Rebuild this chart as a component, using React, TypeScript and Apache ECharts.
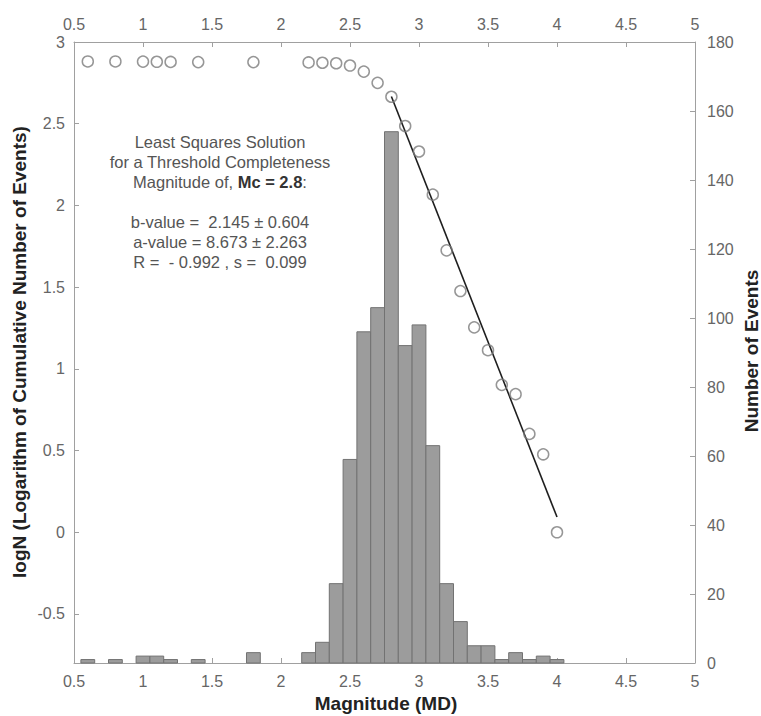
import React, { useEffect, useRef } from "react";
import * as echarts from "echarts";

// Histogram bins (magnitude centres) and counts (right axis)
const binMagnitudes = [0.6, 0.8, 1.0, 1.1, 1.2, 1.4, 1.8, 2.2, 2.3, 2.4, 2.5, 2.6, 2.7, 2.8, 2.9, 3.0, 3.1, 3.2, 3.3, 3.4, 3.5, 3.6, 3.7, 3.8, 3.9, 4.0];
const binCounts = [1, 1, 2, 2, 1, 1, 3, 3, 6, 23, 59, 96, 103, 154, 92, 98, 63, 23, 12, 5, 5, 1, 3, 1, 2, 1];

// Cumulative logN points (left axis)
const cumMagnitudes = [0.6, 0.8, 1.0, 1.1, 1.2, 1.4, 1.8, 2.2, 2.3, 2.4, 2.5, 2.6, 2.7, 2.8, 2.9, 3.0, 3.1, 3.2, 3.3, 3.4, 3.5, 3.6, 3.7, 3.8, 3.9, 4.0];
const cumLogN = [2.881, 2.881, 2.880, 2.879, 2.878, 2.877, 2.877, 2.875, 2.873, 2.870, 2.856, 2.819, 2.750, 2.665, 2.486, 2.330, 2.066, 1.725, 1.476, 1.254, 1.114, 0.902, 0.845, 0.602, 0.477, 0.0];

// Least squares fit line endpoints
const fitMagnitudes = [2.8, 4.0];
const fitLogN = [2.667, 0.093];

// Tick values
const leftTicks = [-0.5, 0, 0.5, 1, 1.5, 2, 2.5, 3];

const annotationLines = [
  "Least Squares Solution",
  "for a Threshold Completeness",
  "Magnitude of, {b|Mc = 2.8}:",
  "",
  "b-value =  2.145 \u00b1 0.604",
  "a-value = 8.673 \u00b1 2.263",
  "R =  - 0.992 , s =  0.099",
];

const FONT = "'Liberation Sans', Arial, Helvetica, sans-serif";
const AXIS_COLOR = "#a0a0a0";
const LABEL_COLOR = "#666";

export default function App() {
  const ref = useRef<HTMLDivElement>(null);
  useEffect(() => {
    if (!ref.current) return;
    const chart = echarts.init(ref.current, undefined, { renderer: "svg" });
    const barData = binMagnitudes.map((m, i) => [m, binCounts[i]]);
    const scatterData = cumMagnitudes.map((m, i) => [m, cumLogN[i]]);
    const lineData = fitMagnitudes.map((m, i) => [m, fitLogN[i]]);

    const axisLabelBase = { color: LABEL_COLOR, fontFamily: FONT, fontSize: 16 };
    const axisLineBase = { show: true, onZero: false, lineStyle: { color: AXIS_COLOR, width: 1 } };
    const tickBase = { show: true, inside: true, length: 5, lineStyle: { color: AXIS_COLOR } };

    const graphics: any[] = [];
    annotationLines.forEach((t, i) => {
      if (!t) return;
      graphics.push({
        type: "text",
        x: 220,
        y: 142 + i * 20,
        style: {
          text: t,
          fill: "#555",
          font: `16.5px ${FONT}`,
          textAlign: "center",
          textVerticalAlign: "middle",
          rich: { b: { fontWeight: "bold", fill: "#333", fontSize: 16.5, fontFamily: FONT } },
        },
      });
    });
    graphics.push(
      {
        type: "text",
        x: 19,
        y: 352,
        rotation: Math.PI / 2,
        style: {
          text: "logN (Logarithm of Cumulative Number of Events)",
          fill: "#222",
          font: `bold 19px ${FONT}`,
          textAlign: "center",
          textVerticalAlign: "middle",
        },
      },
      {
        type: "text",
        x: 751,
        y: 351,
        rotation: Math.PI / 2,
        style: {
          text: "Number of Events",
          fill: "#222",
          font: `bold 19px ${FONT}`,
          textAlign: "center",
          textVerticalAlign: "middle",
        },
      },
      {
        type: "text",
        x: 386,
        y: 703,
        style: {
          text: "Magnitude (MD)",
          fill: "#222",
          font: `bold 19px ${FONT}`,
          textAlign: "center",
          textVerticalAlign: "middle",
        },
      }
    );

    chart.setOption({
      animation: false,
      backgroundColor: "#fff",
      grid: { left: 74, right: 66, top: 42, bottom: 53, containLabel: false },
      graphic: graphics,
      xAxis: [
        {
          type: "value",
          position: "bottom",
          min: 0.5,
          max: 5,
          interval: 0.5,
          axisLine: axisLineBase,
          axisTick: tickBase,
          splitLine: { show: false },
          axisLabel: { ...axisLabelBase, margin: 10 },
        },
        {
          type: "value",
          position: "top",
          min: 0.5,
          max: 5,
          interval: 0.5,
          axisLine: axisLineBase,
          axisTick: tickBase,
          splitLine: { show: false },
          axisLabel: { ...axisLabelBase, margin: 10 },
        },
      ],
      yAxis: [
        {
          type: "value",
          position: "left",
          min: -0.8,
          max: 3,
          axisLine: axisLineBase,
          axisTick: { ...tickBase, customValues: leftTicks },
          splitLine: { show: false },
          axisLabel: { ...axisLabelBase, margin: 9, customValues: leftTicks },
        },
        {
          type: "value",
          position: "right",
          min: 0,
          max: 180,
          interval: 20,
          axisLine: axisLineBase,
          axisTick: tickBase,
          splitLine: { show: false },
          axisLabel: { ...axisLabelBase, margin: 12 },
        },
      ],
      series: [
        {
          type: "custom",
          name: "Number of Events",
          xAxisIndex: 0,
          yAxisIndex: 1,
          encode: { x: 0, y: 1 },
          data: barData,
          z: 1,
          renderItem: (params: any, api: any) => {
            const m = api.value(0);
            const c = api.value(1);
            const p1 = api.coord([m - 0.05, c]);
            const p2 = api.coord([m + 0.05, 0]);
            return {
              type: "rect",
              shape: { x: p1[0], y: p1[1], width: p2[0] - p1[0], height: p2[1] - p1[1] },
              style: { fill: "#9c9c9c", stroke: "#727272", lineWidth: 1 },
            };
          },
        },
        {
          type: "line",
          xAxisIndex: 0,
          yAxisIndex: 0,
          data: lineData,
          symbol: "none",
          lineStyle: { color: "#1e1e1e", width: 1.6 },
          z: 3,
        },
        {
          type: "scatter",
          xAxisIndex: 0,
          yAxisIndex: 0,
          data: scatterData,
          symbol: "circle",
          symbolSize: 11,
          itemStyle: { color: "rgba(255,255,255,0)", borderColor: "#7c7c7c", borderWidth: 1.5 },
          z: 4,
        },
      ],
    });
    return () => chart.dispose();
  }, []);
  return (
    <div
      ref={ref}
      style={{ position: "absolute", left: 0, top: 0, width: 761, height: 716 }}
    />
  );
}
